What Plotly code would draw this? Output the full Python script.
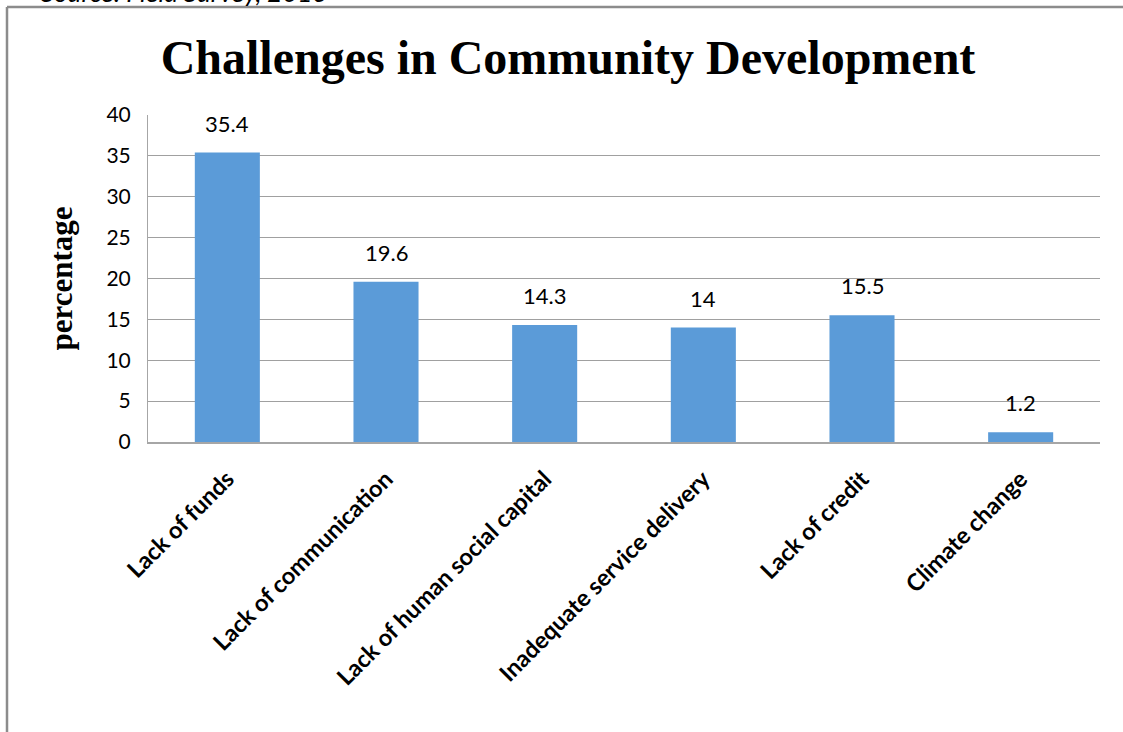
import plotly.graph_objects as go

categories = ["Lack of funds", "Lack of communication", "Lack of human social capital",
              "Inadequate service delivery", "Lack of credit", "Climate change"]
values = [35.4, 19.6, 14.3, 14, 15.5, 1.2]
value_labels = ["35.4", "19.6", "14.3", "14", "15.5", "1.2"]
y_ticks = [0, 5, 10, 15, 20, 25, 30, 35, 40]

W, H = 1123, 732
L, R, T, B = 148, 23, 115, 290
pw, ph = W - L - R, H - T - B

def px_x(x):
    return (x - L) / pw

def px_y(y):
    return (H - B - y) / ph

fig = go.Figure()
fig.add_trace(go.Bar(
    x=categories, y=values,
    marker=dict(color="#5B9BD8", line=dict(width=0)),
    cliponaxis=False,
))

# data labels placed from the data values
for c, v, t in zip(categories, values, value_labels):
    fig.add_annotation(x=c, y=v, xref="x", yref="y", text=t, showarrow=False,
                       yanchor="bottom", yshift=14,
                       font=dict(family="Lato", size=22, color="#000000"))

fig.update_layout(
    width=W, height=H,
    margin=dict(l=L, r=R, t=T, b=B),
    paper_bgcolor="white", plot_bgcolor="white",
    bargap=0.59,
    showlegend=False,
    title=dict(text="<b>Challenges in Community Development</b>",
               font=dict(family="Liberation Serif", size=48, color="#000000"),
               x=568 / W, xref="container", xanchor="center",
               y=1 - 57 / H, yanchor="middle"),
    xaxis=dict(tickangle=-45, tickfont=dict(family="Lato", size=23.5, color="#000000", weight="bold"),
               showline=True, linecolor="#A6A6A6", linewidth=2, showgrid=False,
               ticks="", ticklabelstandoff=12),
    yaxis=dict(range=[0, 40], tickvals=y_ticks, showgrid=True, gridcolor="#A0A0A0", gridwidth=1.3,
               showline=True, linecolor="#A6A6A6", linewidth=1, zeroline=False,
               tickfont=dict(family="Lato", size=21, color="#000000"),
               ticks="", ticklabelstandoff=12,
               title=dict(text="<b>percentage</b>", standoff=24,
                          font=dict(family="Liberation Serif", size=31, color="#000000"))),
)

# outer chart frame
fig.add_shape(type="line", xref="paper", yref="paper",
              x0=px_x(7), x1=px_x(W + 10), y0=px_y(7), y1=px_y(7),
              line=dict(color="#8C8C8C", width=2.5))
fig.add_shape(type="line", xref="paper", yref="paper",
              x0=px_x(7), x1=px_x(7), y0=px_y(7), y1=px_y(H + 10),
              line=dict(color="#8C8C8C", width=2.5))

# partially cut-off source note at the very top
fig.add_annotation(text="<i>Source: Field Survey, 2013</i>", xref="paper", yref="paper",
                   x=px_x(330), y=px_y(10), xanchor="right", yanchor="bottom",
                   showarrow=False, font=dict(family="Lato", size=26, color="#000000"))

fig.write_html("out.html")
